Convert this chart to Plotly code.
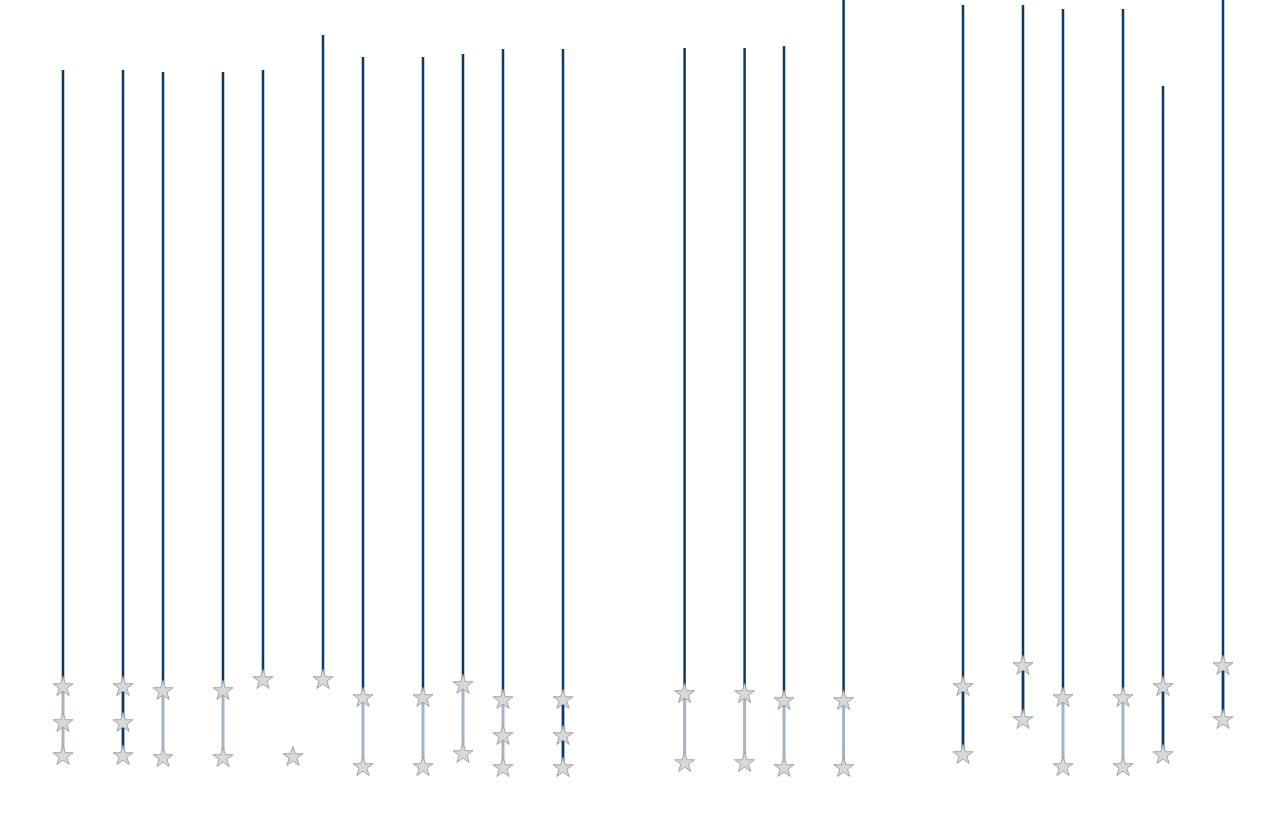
import plotly.graph_objects as go

# column positions (day index) and values
positions = [0, 3, 5, 8, 10, 13, 15, 18, 20, 22, 25,
             31.08, 34.08, 36.05, 39.03, 45, 48, 50, 53, 55, 58]
tops = [76.1, 76.1, 75.9, 75.9, 76.1, 79.6, 77.4, 77.4, 77.7, 78.2, 78.2,
        78.3, 78.3, 78.5, 85.0, 82.6, 82.6, 82.2, 82.2, 74.5, 85.0]
bottoms = [14.4, 7.5, 14.0, 14.0, 15.1, 15.1, 13.3, 13.3, 14.6, 13.1, 6.3,
           13.7, 13.7, 13.0, 13.0, 7.6, 11.1, 13.3, 13.3, 7.6, 11.1]
star_values = [
    [14.4, 10.8, 7.5],
    [14.4, 10.8, 7.5],
    [14.0, 7.3],
    [14.0, 7.3],
    [15.1],
    [15.1],
    [13.3, 6.4],
    [13.3, 6.4],
    [14.6, 7.7],
    [13.1, 9.5, 6.3],
    [13.1, 9.5, 6.3],
    [13.7, 6.8],
    [13.7, 6.8],
    [13.0, 6.3],
    [13.0, 6.3],
    [14.4, 7.6],
    [16.5, 11.1],
    [13.3, 6.4],
    [13.3, 6.4],
    [14.4, 7.6],
    [16.5, 11.1],
]
# a lone star that sits between two columns
extra_star_x = [11.5]
extra_star_y = [7.4]

DARK = "#0d3a63"
LIGHT = "#a2b5c8"


def segments(xs, y0s, y1s):
    x, y = [], []
    for xi, a, b in zip(xs, y0s, y1s):
        x += [xi, xi, None]
        y += [a, b, None]
    return x, y


light_cols = [(p, max(s), min(s)) for p, s in zip(positions, star_values) if len(s) > 1]
lx, ly = segments([c[0] for c in light_cols], [c[1] for c in light_cols], [c[2] for c in light_cols])
dx, dy = segments(positions, tops, bottoms)

sx, sy = [], []
for p, s in zip(positions, star_values):
    sx += [p] * len(s)
    sy += s
sx += extra_star_x
sy += extra_star_y

fig = go.Figure()
fig.add_trace(go.Scatter(x=lx, y=ly, mode="lines", line={"color": LIGHT, "width": 3},
                         hoverinfo="skip", showlegend=False))
fig.add_trace(go.Scatter(x=dx, y=dy, mode="lines", line={"color": DARK, "width": 2.5},
                         hoverinfo="skip", showlegend=False))
fig.add_trace(go.Scatter(
    x=sx, y=sy, mode="markers", showlegend=False,
    marker={"symbol": "star", "size": 15, "color": "#d9d9d9",
            "line": {"color": "#a3a3a3", "width": 1}},
))
fig.update_layout(
    width=1285,
    height=831,
    plot_bgcolor="white",
    paper_bgcolor="white",
    margin={"l": 0, "r": 0, "t": 0, "b": 0},
    xaxis={"range": [-3.15, 61.1], "visible": False},
    yaxis={"range": [0, 83.1], "visible": False},
)
# drop the browser's default body margin so the chart sits flush in the window
fig.write_html(
    "out.html",
    config={"displayModeBar": False},
    post_script="document.body.style.margin = '0';",
)
